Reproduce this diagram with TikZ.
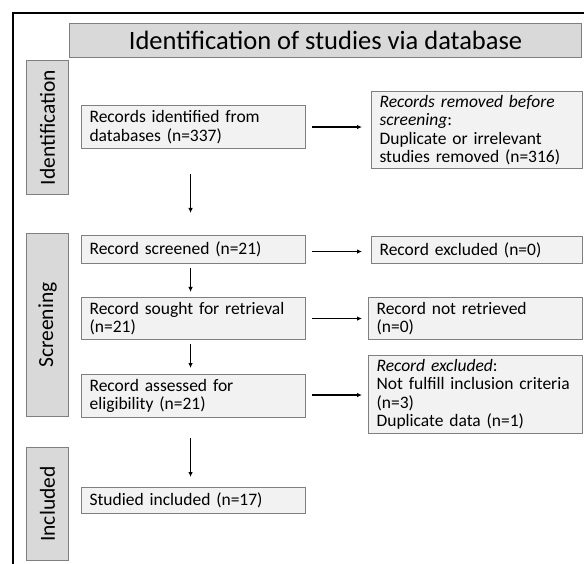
\documentclass[tikz,border=0pt]{standalone}
\usepackage{fontspec}
\setmainfont{Carlito}
\usetikzlibrary{arrows.meta}
\definecolor{hdrfill}{HTML}{D9D9D9}
\definecolor{boxfill}{HTML}{F2F2F2}
\definecolor{boxline}{HTML}{7F7F7F}
\tikzset{
  flowbox/.style={draw=boxline, fill=boxfill, line width=1.1pt, inner xsep=8pt, inner ysep=0pt,
    align=left, font=\fontsize{17.5}{18.5}\selectfont, anchor=north west},
  hdrbox/.style={draw=boxline, fill=hdrfill, line width=1.1pt, inner sep=0pt, anchor=north west},
  sidebox/.style={hdrbox},
  sidetext/.style={rotate=90, font=\fontsize{21.5}{24}\selectfont},
  arr/.style={line width=1.2pt, -{Latex[length=5pt,width=4.5pt]}},
}
\begin{document}
\begin{tikzpicture}[x=1pt,y=-1pt]
\useasboundingbox (0,0) rectangle (584,564);
% frame
\draw[line width=2pt] (13,564) -- (13,13) -- (585,13);
% title
\node[hdrbox, minimum width=512pt, minimum height=34pt, font=\fontsize{26.5}{30}\selectfont] (title) at (69,23) {Identification of studies via database};
% side labels
\node[sidebox, minimum width=42pt, minimum height=134pt] (sideid) at (26,60) {};
\node[sidetext] (sideidt) at (sideid.center) {Identification};
\node[sidebox, minimum width=42pt, minimum height=183pt] (sidescr) at (26,233) {};
\node[sidetext] (sidescrt) at (sidescr.center) {Screening};
\node[sidebox, minimum width=42pt, minimum height=113pt] (sideinc) at (26,447) {};
\node[sidetext] (sideinct) at (sideinc.center) {Included};
% left column
\node[flowbox, text width=208pt, minimum height=43pt] (rec) at (81,105) {Records identified from\\databases (n=337)};
\node[flowbox, text width=208pt, minimum height=28pt] (scr) at (81,235) {Record screened (n=21)};
\node[flowbox, text width=208pt, minimum height=42pt] (sought) at (81,297) {Record sought for retrieval\\(n=21)};
\node[flowbox, text width=208pt, minimum height=43pt] (assess) at (81,374) {Record assessed for\\eligibility (n=21)};
\node[flowbox, text width=208pt, minimum height=26pt] (studied) at (81,487) {Studied included (n=17)};
% right column
\node[flowbox, text width=195pt, minimum height=77pt] (rem) at (371,91) {\textit{Records removed before}\\\textit{screening}:\\Duplicate or irrelevant\\studies removed (n=316)};
\node[flowbox, text width=195pt, minimum height=27pt] (exc1) at (371,236) {Record excluded (n=0)};
\node[flowbox, text width=198pt, minimum height=42pt] (notret) at (368,297) {Record not retrieved\\(n=0)};
\node[flowbox, text width=198pt, minimum height=78pt] (exc2) at (368,355) {\textit{Record excluded}:\\Not fulfill inclusion criteria\\(n=3)\\Duplicate data (n=1)};
% horizontal arrows
\draw[arr] ([xshift=6pt]rec.east) -- ([xshift=-9pt]rem.west |- rec.east);
\draw[arr] ([xshift=6pt,yshift=-2pt]scr.east) -- ([xshift=-9pt,yshift=-2pt]exc1.west |- scr.east);
\draw[arr] ([xshift=6pt]sought.east) -- ([xshift=-6pt]notret.west |- sought.east);
\draw[arr] ([xshift=6pt,yshift=1pt]assess.east) -- ([xshift=-6pt,yshift=1pt]exc2.west |- assess.east);
% vertical arrows
\draw[arr] ([xshift=-3pt,yshift=-25pt]rec.south) -- ([xshift=-3pt,yshift=22pt]scr.north);
\draw[arr] ([xshift=-3pt,yshift=-4pt]scr.south) -- ([xshift=-3pt,yshift=5pt]sought.north);
\draw[arr] ([xshift=-3pt,yshift=-4pt]sought.south) -- ([xshift=-3pt,yshift=6pt]assess.north);
\draw[arr] ([xshift=-3pt,yshift=-20pt]assess.south) -- ([xshift=-3pt,yshift=10pt]studied.north);
\end{tikzpicture}
\end{document}
